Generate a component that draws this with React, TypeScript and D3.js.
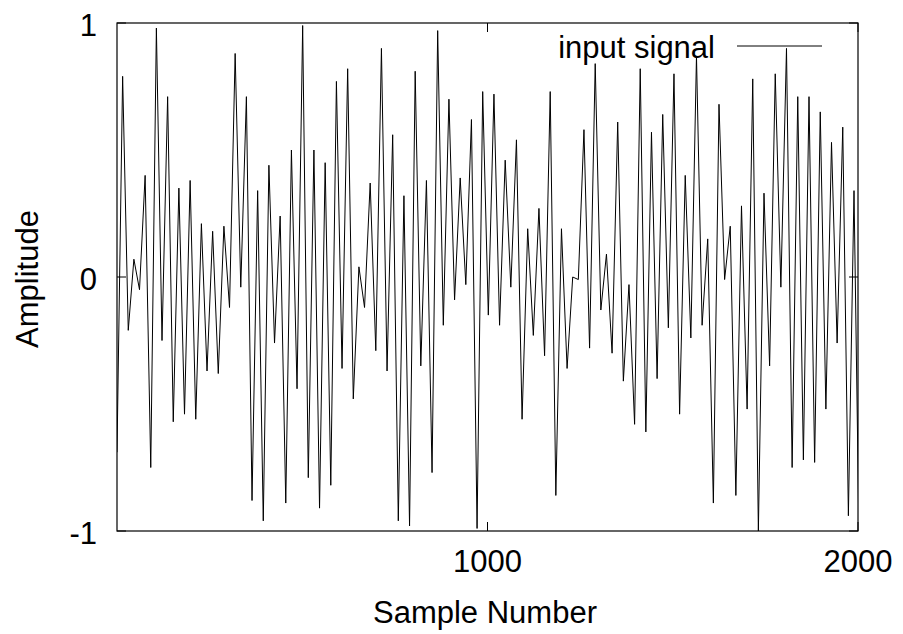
import React from "react";
import * as d3 from "d3";

// Signal amplitudes, one per sample
const amplitudes: number[] = [
  -0.69, 0.79, -0.21, 0.07, -0.05, 0.40, -0.75, 0.98, -0.25, 0.71,
  -0.57, 0.35, -0.54, 0.38, -0.56, 0.21, -0.37, 0.18, -0.38, 0.20,
  -0.12, 0.88, -0.04, 0.71, -0.88, 0.34, -0.96, 0.44, -0.26, 0.24,
  -0.89, 0.50, -0.44, 0.99, -0.79, 0.50, -0.91, 0.45, -0.82, 0.77,
  -0.36, 0.82, -0.48, 0.04, -0.12, 0.37, -0.29, 0.90, -0.37, 0.56,
  -0.96, 0.32, -0.98, 0.81, -0.35, 0.38, -0.77, 0.97, -0.19, 0.70,
  -0.09, 0.39, -0.03, 0.62, -0.99, 0.73, -0.15, 0.72, -0.19, 0.46,
  -0.04, 0.54, -0.56, 0.19, -0.23, 0.27, -0.31, 0.73, -0.86, 0.19,
  -0.36, 0.00, -0.01, 0.58, -0.28, 0.84, -0.13, 0.09, -0.30, 0.61,
  -0.41, -0.03, -0.58, 0.82, -0.61, 0.57, -0.40, 0.64, -0.20, 0.80,
  -0.54, 0.40, -0.24, 0.87, -0.19, 0.15, -0.89, 0.68, -0.01, 0.20,
  -0.86, 0.28, -0.52, 0.78, -1.00, 0.33, -0.35, 0.80, -0.04, 0.90,
  -0.75, 0.71, -0.72, 0.71, -0.73, 0.65, -0.52, 0.53, -0.26, 0.59,
  -0.94, 0.34, -1.20,
];
const sampleStep = 15.185; // samples between plotted points
const xTicks: number[] = [1000, 2000];
const yTicks: number[] = [-1, 0, 1];
const seriesName = "input signal";
const xTitle = "Sample Number";
const yTitle = "Amplitude";

const W = 903;
const H = 634;
const left = 117;
const right = 858;
const top = 23;
const bottom = 531;
const FONT = "'Liberation Sans', Arial, Helvetica, sans-serif";
const FS = 31;

export default function App() {
  const x = d3.scaleLinear().domain([0, 2000]).range([left, right]);
  const y = d3.scaleLinear().domain([-1, 1]).range([bottom, top]);
  const pts = amplitudes.map((v, i) => [i * sampleStep, v] as [number, number]);
  const line = d3
    .line<[number, number]>()
    .x((d) => x(d[0]))
    .y((d) => y(d[1]));
  const tickLen = 9;
  return (
    <svg
      width={W}
      height={H}
      style={{ position: "absolute", left: 0, top: 0, background: "#fff" }}
      fontFamily={FONT}
    >
      <defs>
        <clipPath id="plotclip">
          <rect x={left} y={top - 1} width={right - left} height={bottom - top + 2} />
        </clipPath>
      </defs>
      <rect x={0} y={0} width={W} height={H} fill="#fff" />
      <path
        d={line(pts) || ""}
        fill="none"
        stroke="#000"
        strokeWidth={1}
        clipPath="url(#plotclip)"
      />
      {/* border */}
      <rect
        x={left}
        y={top}
        width={right - left}
        height={bottom - top}
        fill="none"
        stroke="#000"
        strokeWidth={1.2}
      />
      {/* y ticks */}
      {yTicks.map((t) => (
        <g key={"y" + t}>
          <line x1={left} x2={left + tickLen} y1={y(t)} y2={y(t)} stroke="#000" />
          <line x1={right} x2={right - tickLen} y1={y(t)} y2={y(t)} stroke="#000" />
          <text
            x={97}
            y={y(t) + 2}
            textAnchor="end"
            dominantBaseline="central"
            fontSize={FS}
            fill="#000"
          >
            {t}
          </text>
        </g>
      ))}
      {/* x ticks */}
      {xTicks.map((t) => (
        <g key={"x" + t}>
          <line x1={x(t)} x2={x(t)} y1={bottom} y2={bottom - tickLen} stroke="#000" />
          <line x1={x(t)} x2={x(t)} y1={top} y2={top + tickLen} stroke="#000" />
          <text
            x={x(t)}
            y={561}
            textAnchor="middle"
            dominantBaseline="central"
            fontSize={FS}
            fill="#000"
          >
            {t}
          </text>
        </g>
      ))}
      <text
        x={485}
        y={612}
        textAnchor="middle"
        dominantBaseline="central"
        fontSize={FS}
        fill="#000"
      >
        {xTitle}
      </text>
      <text
        transform={`translate(27,279) rotate(-90)`}
        textAnchor="middle"
        dominantBaseline="central"
        fontSize={FS}
        fill="#000"
      >
        {yTitle}
      </text>
      {/* legend */}
      <text
        x={715}
        y={47}
        textAnchor="end"
        dominantBaseline="central"
        fontSize={FS}
        fill="#000"
      >
        {seriesName}
      </text>
      <line x1={737} x2={822} y1={46} y2={46} stroke="#000" strokeWidth={1} />
    </svg>
  );
}
